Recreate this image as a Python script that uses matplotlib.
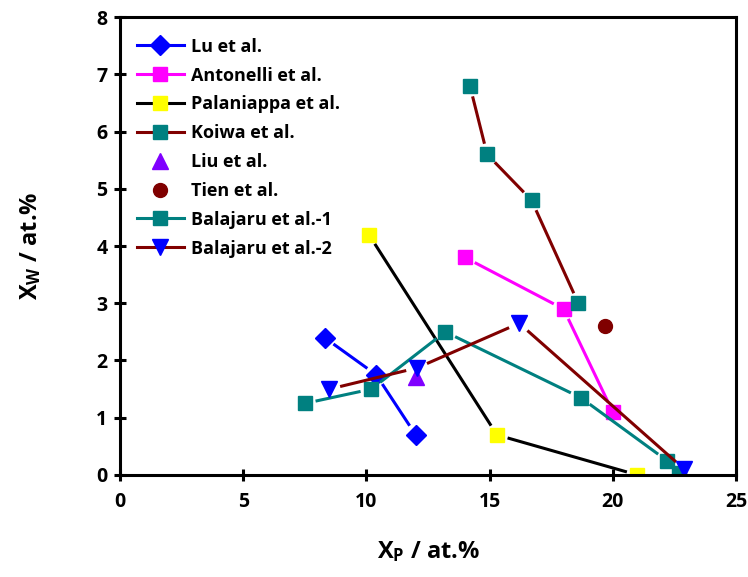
import numpy as np
import matplotlib
matplotlib.use("Agg")
import matplotlib.pyplot as plt

plt.rcParams['font.family'] = ['Open Sans', 'DejaVu Sans']
plt.rcParams['font.weight'] = 'bold'
plt.rcParams['mathtext.fontset'] = 'custom'
plt.rcParams['mathtext.rm'] = 'Open Sans:bold'
plt.rcParams['mathtext.it'] = 'Open Sans:bold'
plt.rcParams['mathtext.bf'] = 'Open Sans:bold'

# dati (X_P, X_W in at.%)
lu_x = [8.3, 10.4, 12.0]
lu_y = [2.4, 1.75, 0.7]

antonelli_x = [14.0, 18.0, 20.0]
antonelli_y = [3.8, 2.9, 1.1]

palaniappa_x = [10.1, 15.3, 21.0]
palaniappa_y = [4.2, 0.7, 0.0]

koiwa_x = [14.2, 14.9, 16.7, 18.6]
koiwa_y = [6.8, 5.6, 4.8, 3.0]

liu_x = [12.0]
liu_y = [1.72]

tien_x = [19.7]
tien_y = [2.6]

bal1_x = [7.5, 10.2, 13.2, 18.7, 22.2, 22.7]
bal1_y = [1.25, 1.5, 2.5, 1.35, 0.25, 0.03]

bal2_x = [8.5, 12.05, 16.2, 22.9]
bal2_y = [1.5, 1.87, 2.65, 0.1]

teal = '#008080'
dred = '#800000'

fig = plt.figure(figsize=(7.48, 5.77), dpi=100)
ax = fig.add_axes([0.1604, 0.1768, 0.8236, 0.7937])
ax.set_xlim(0, 25)
ax.set_ylim(0, 8)

lw = 2.2
GAP = 11  # pixel di distacco tra linea e simbolo


def linea_staccata(xs, ys, colore):
    # disegna i segmenti accorciati alle estremita (stile Origin)
    pts = ax.transData.transform(np.column_stack([xs, ys]))
    inv = ax.transData.inverted()
    for i in range(len(pts) - 1):
        a, b = pts[i], pts[i + 1]
        d = b - a
        n = np.hypot(d[0], d[1])
        if n <= 2 * GAP:
            continue
        u = d / n
        seg = inv.transform(np.array([a + u * GAP, b - u * GAP]))
        ax.plot(seg[:, 0], seg[:, 1], '-', color=colore, lw=lw, solid_capstyle='butt')


serie = [
    (lu_x, lu_y, 'blue', 'D', 10, 'blue', 'Lu et al.'),
    (antonelli_x, antonelli_y, 'magenta', 's', 9.5, 'magenta', 'Antonelli et al.'),
    (palaniappa_x, palaniappa_y, 'black', 's', 9.5, 'yellow', 'Palaniappa et al.'),
    (koiwa_x, koiwa_y, dred, 's', 9.5, teal, 'Koiwa et al.'),
    (liu_x, liu_y, None, '^', 11, '#8000ff', 'Liu et al.'),
    (tien_x, tien_y, None, 'o', 10, dred, 'Tien et al.'),
    (bal1_x, bal1_y, teal, 's', 9.5, teal, 'Balajaru et al.-1'),
    (bal2_x, bal2_y, dred, 'v', 11, 'blue', 'Balajaru et al.-2'),
]

handles = []
for xs, ys, lc, mk, ms, mc, lab in serie:
    if lc is not None:
        linea_staccata(xs, ys, lc)
    ax.plot(xs, ys, linestyle='none', marker=mk, ms=ms, mfc=mc, mec=mc)
    h, = ax.plot([], [], linestyle='-' if lc else 'none', color=lc if lc else mc,
                 lw=lw, marker=mk, ms=ms, mfc=mc, mec=mc, label=lab)
    handles.append(h)

ax.set_xticks(np.arange(0, 26, 5))
ax.set_yticks(np.arange(0, 9, 1))
for s in ax.spines.values():
    s.set_linewidth(2.2)
ax.tick_params(direction='inout', length=8, width=2.2, labelsize=14)
ax.tick_params(axis='x', pad=8)
ax.tick_params(axis='y', pad=5)
for t in ax.get_xticklabels() + ax.get_yticklabels():
    t.set_fontweight('bold')

ax.set_xlabel(r'X$_\mathregular{P}$ / at.%', fontsize=17, fontweight='bold', labelpad=20)
ax.set_ylabel(r'X$_\mathregular{W}$ / at.%', fontsize=17, fontweight='bold', labelpad=38)

ax.legend(handles=handles, loc='upper left', bbox_to_anchor=(0.0065, 0.9825),
          frameon=False, handlelength=2.6, handletextpad=0.39, labelspacing=0.6,
          borderaxespad=0.3, prop={'weight': 'bold', 'size': 13})

fig.savefig('out.png', dpi=100)
